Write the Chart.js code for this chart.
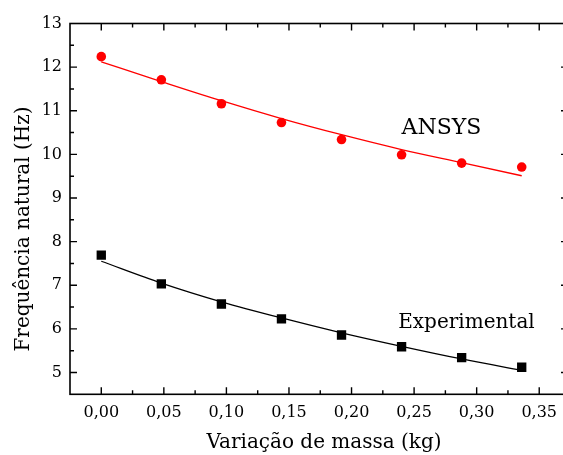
<!DOCTYPE html>
<html>
<head>
<meta charset="utf-8">
<script src="https://cdn.jsdelivr.net/npm/chart.js@4/dist/chart.umd.min.js"></script>
<style>
  html, body { margin: 0; padding: 0; background: #fff; overflow: hidden; }
  #c { display: block; }
</style>
</head>
<body>
<canvas id="c" width="563" height="455"></canvas>
<script>
// Mass variation (kg) and natural frequency (Hz)
const massa = [0, 0.048, 0.096, 0.144, 0.192, 0.240, 0.288, 0.336];
const ansys = [12.24, 11.71, 11.16, 10.73, 10.34, 9.99, 9.80, 9.71];
const experimental = [7.69, 7.03, 6.57, 6.23, 5.86, 5.59, 5.34, 5.12];
// fitted curves through each series
const ansysFit = [12.12, 11.67, 11.23, 10.82, 10.45, 10.11, 9.81, 9.51];
const experimentalFit = [7.55, 7.05, 6.62, 6.25, 5.91, 5.60, 5.31, 5.05];

const xTicks = [0, 0.05, 0.10, 0.15, 0.20, 0.25, 0.30, 0.35];
const xMinor = [0.025, 0.075, 0.125, 0.175, 0.225, 0.275, 0.325];
const yTicks = [5, 6, 7, 8, 9, 10, 11, 12, 13];
const yMinor = [5.5, 6.5, 7.5, 8.5, 9.5, 10.5, 11.5, 12.5];

// the plot frame's right edge lies just past the canvas edge
const xFrameMax = 0.373;

const labels = [
  { text: 'ANSYS', x: 0.240, y: 10.46, size: 22 },
  { text: 'Experimental', x: 0.2373, y: 6.03, size: 20 }
];

const FONT = '"DejaVu Serif", "Liberation Serif", serif';

const pts = (xs, ys) => xs.map((x, i) => ({ x: x, y: ys[i] }));

// frame, inward ticks, axis titles and series labels
const framePlugin = {
  id: 'frame',
  afterDatasetsDraw(chart) {
    const { ctx, chartArea: a, scales: { x, y } } = chart;
    const right = x.getPixelForValue(xFrameMax);
    ctx.save();
    ctx.strokeStyle = '#000';
    ctx.lineWidth = 1.6;
    ctx.strokeRect(a.left, a.top, right - a.left, a.bottom - a.top);
    ctx.lineWidth = 1.4;
    ctx.beginPath();
    const tickX = (vals, len) => vals.forEach(v => {
      const px = x.getPixelForValue(v);
      ctx.moveTo(px, a.bottom); ctx.lineTo(px, a.bottom - len);
      ctx.moveTo(px, a.top); ctx.lineTo(px, a.top + len);
    });
    const tickY = (vals, len) => vals.forEach(v => {
      const py = y.getPixelForValue(v);
      if (py <= a.top + 1 || py >= a.bottom - 1) return;
      ctx.moveTo(a.left, py); ctx.lineTo(a.left + len, py);
      ctx.moveTo(right, py); ctx.lineTo(right - len, py);
    });
    tickX(xTicks, 7); tickX(xMinor, 4);
    tickY(yTicks, 7); tickY(yMinor, 4);
    ctx.stroke();

    ctx.fillStyle = '#000';
    ctx.font = '20px ' + FONT;
    ctx.textAlign = 'center';
    ctx.textBaseline = 'alphabetic';
    ctx.fillText('Variação de massa (kg)', 324, 448);

    ctx.save();
    ctx.translate(29, 229);
    ctx.rotate(-Math.PI / 2);
    ctx.fillText('Frequência natural (Hz)', 0, 0);
    ctx.restore();

    ctx.textAlign = 'left';
    labels.forEach(l => {
      ctx.font = l.size + 'px ' + FONT;
      ctx.fillText(l.text, x.getPixelForValue(l.x), y.getPixelForValue(l.y));
    });
    ctx.restore();
  }
};

new Chart(document.getElementById('c'), {
  type: 'scatter',
  data: {
    datasets: [
      {
        label: 'ANSYS',
        data: pts(massa, ansys),
        pointStyle: 'circle',
        pointRadius: 4.8,
        backgroundColor: '#ff0000',
        borderColor: '#ff0000',
        borderWidth: 0,
        showLine: false
      },
      {
        label: 'Experimental',
        data: pts(massa, experimental),
        pointStyle: 'rect',
        pointRadius: 6.6,
        backgroundColor: '#000',
        borderColor: '#000',
        borderWidth: 0,
        showLine: false
      },
      {
        label: 'ANSYS ajuste',
        data: pts(massa, ansysFit),
        showLine: true,
        pointRadius: 0,
        borderColor: '#ff0000',
        borderWidth: 1.3,
        cubicInterpolationMode: 'monotone'
      },
      {
        label: 'Experimental ajuste',
        data: pts(massa, experimentalFit),
        showLine: true,
        pointRadius: 0,
        borderColor: '#000',
        borderWidth: 1.3,
        cubicInterpolationMode: 'monotone'
      }
    ]
  },
  options: {
    responsive: false,
    animation: false,
    devicePixelRatio: 1,
    layout: { autoPadding: false, padding: { top: 23.5, right: 0, left: 0, bottom: 0 } },
    plugins: { legend: { display: false }, tooltip: { enabled: false } },
    scales: {
      x: {
        type: 'linear',
        min: -0.025,
        max: 0.369,
        afterBuildTicks: s => { s.ticks = xTicks.map(v => ({ value: v })); },
        afterFit: s => { s.height = 60.7; s.paddingLeft = 0; s.paddingRight = 0; },
        grid: { display: false, drawTicks: false },
        border: { display: false },
        ticks: {
          color: '#000',
          padding: 9,
          maxRotation: 0,
          autoSkip: false,
          font: { family: FONT, size: 16 },
          callback: v => v.toFixed(2).replace('.', ',')
        }
      },
      y: {
        type: 'linear',
        min: 4.5,
        max: 13,
        afterBuildTicks: s => { s.ticks = yTicks.map(v => ({ value: v })); },
        afterFit: s => { s.width = 70; s.paddingTop = 0; s.paddingBottom = 0; },
        grid: { display: false, drawTicks: false },
        border: { display: false },
        ticks: {
          color: '#000',
          padding: 8,
          autoSkip: false,
          font: { family: FONT, size: 16 },
          callback: v => String(v)
        }
      }
    }
  },
  plugins: [framePlugin]
});
</script>
</body>
</html>
